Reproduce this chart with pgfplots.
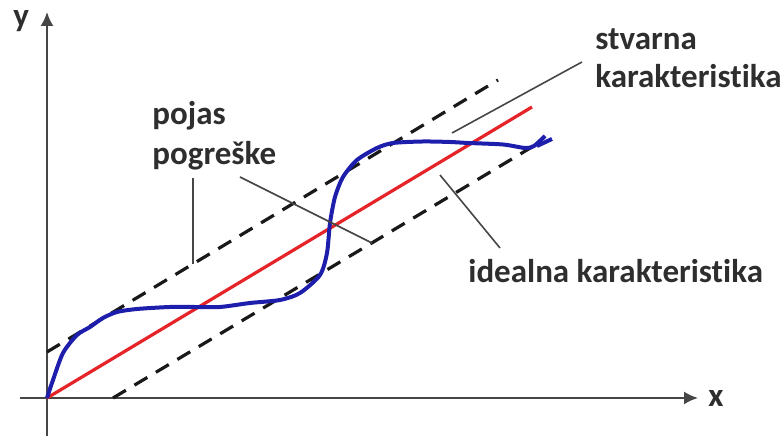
\documentclass[border=0pt]{standalone}
\usepackage{pgfplots}
\pgfplotsset{compat=1.18}
\usetikzlibrary{arrows.meta}
\usepackage{fontspec}
\setmainfont[Ligatures={NoCommon,NoDiscretionary}]{Carlito}
\definecolor{redl}{RGB}{228,36,40}
\definecolor{bluel}{RGB}{30,30,172}
\definecolor{axisgray}{RGB}{70,70,70}
\tikzset{lbl/.style={anchor=base west, font=\fontsize{16.5}{19}\selectfont\bfseries, text=black!82, inner sep=0pt}}
\begin{document}
\begin{tikzpicture}
\begin{axis}[
  x=0.5pt, y=0.5pt,
  xmin=-27, xmax=651, ymin=-38, ymax=386,
  axis lines=middle, enlargelimits=false,
  xtick=\empty, ytick=\empty,
  clip=false,
  axis line style={axisgray, line width=1pt},
  every inner x axis line/.append style={-{Latex[length=7pt,width=6.5pt]}},
  every inner y axis line/.append style={-{Latex[length=7pt,width=6.5pt]}},
]
\path (axis cs:-47,-38) rectangle (axis cs:736,398);
% error band (dashed)
\addplot[black!90, line width=1.6pt, dash pattern=on 7.5pt off 5pt] coordinates {(0,46) (451,318)};
\addplot[black!90, line width=1.6pt, dash pattern=on 7.5pt off 5pt] coordinates {(66,0) (485,251)};
% ideal characteristic
\addplot[redl, line width=1.6pt] coordinates {(0,0) (485,291)};
% real characteristic
\addplot[bluel, line width=2pt, smooth, tension=0.45] coordinates {
 (0,0) (6,18) (16,45) (30,63) (43,71) (56,80) (70,86) (90,89) (123,91) (146,91)
 (173,91) (203,95) (233,98) (253,105) (273,123) (280,145) (283,175) (288,201)
 (296,221) (310,238) (330,250) (346,255) (376,256.5) (403,256) (421,255)
 (456,253.5) (478,250) (487,252) (498,262)};
\addplot[bluel, line width=2pt] coordinates {(490,252) (505,259)};
% leader lines
\addplot[axisgray, line width=0.8pt] coordinates {(146,220) (146,134)};
\addplot[axisgray, line width=0.8pt] coordinates {(193,221) (325,155)};
\addplot[axisgray, line width=0.8pt] coordinates {(405,265) (535,336)};
\addplot[axisgray, line width=0.8pt] coordinates {(393,223) (453,150)};
% texts
\node[lbl] at (axis cs:105,273) {pojas};
\node[lbl] at (axis cs:105,233) {pogreške};
\node[lbl] at (axis cs:548,348) {stvarna};
\node[lbl] at (axis cs:548,310) {karakteristika};
\node[lbl] at (axis cs:421,115) {idealna karakteristika};
\node[lbl] at (axis cs:-34,371) {y};
\node[lbl] at (axis cs:661,-9) {x};
\end{axis}
\end{tikzpicture}
\end{document}
